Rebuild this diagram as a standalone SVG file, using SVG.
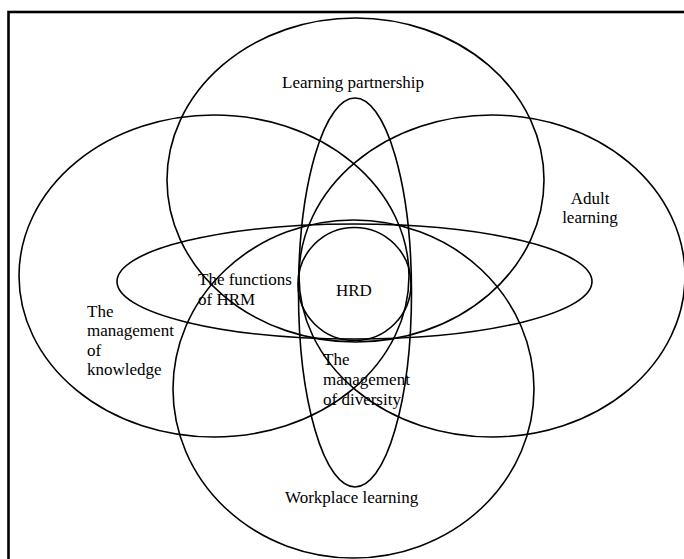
<svg xmlns="http://www.w3.org/2000/svg" width="684" height="559" viewBox="0 0 684 559">
  <style>
    .ring { fill: none; stroke: #000; stroke-width: 1.6; }
    .frame { fill: none; stroke: #000; stroke-width: 2.6; }
    .lbl { font-family: "Liberation Serif", "Times New Roman", serif; font-size: 17px; fill: #000; }
  </style>
  <rect width="684" height="559" fill="#fff"/>
  <!-- frame: only the left and top edges fall inside the view -->
  <rect class="frame" x="8.5" y="12" width="700" height="580"/>

  <g id="learning-partnership">
    <ellipse class="ring" cx="355.5" cy="180" rx="188.5" ry="162"/>
    <text class="lbl" x="282" y="88">Learning partnership</text>
  </g>

  <g id="management-of-knowledge">
    <ellipse class="ring" cx="214" cy="276" rx="195" ry="161"/>
    <text class="lbl" x="87" y="316.5">The</text>
    <text class="lbl" x="87" y="336">management</text>
    <text class="lbl" x="87" y="355.5">of</text>
    <text class="lbl" x="87" y="375">knowledge</text>
  </g>

  <g id="adult-learning">
    <ellipse class="ring" cx="492" cy="276" rx="193" ry="161"/>
    <text class="lbl" x="590" y="204" text-anchor="middle">Adult</text>
    <text class="lbl" x="590" y="223" text-anchor="middle">learning</text>
  </g>

  <g id="workplace-learning">
    <ellipse class="ring" cx="353.5" cy="389" rx="180.5" ry="169"/>
    <text class="lbl" x="285" y="503">Workplace learning</text>
  </g>

  <g id="functions-of-hrm">
    <ellipse class="ring" cx="354.5" cy="281.5" rx="237.5" ry="57.5"/>
    <text class="lbl" x="198" y="285">The functions</text>
    <text class="lbl" x="198" y="305">of HRM</text>
  </g>

  <g id="management-of-diversity">
    <ellipse class="ring" cx="355" cy="292.5" rx="56.5" ry="194.5"/>
    <text class="lbl" x="323" y="365">The</text>
    <text class="lbl" x="323" y="385">management</text>
    <text class="lbl" x="323" y="405">of diversity</text>
  </g>

  <g id="hrd">
    <circle class="ring" cx="354.5" cy="284" r="56.5"/>
    <text class="lbl" x="336" y="296">HRD</text>
  </g>

  <g id="connectors"/>
</svg>
